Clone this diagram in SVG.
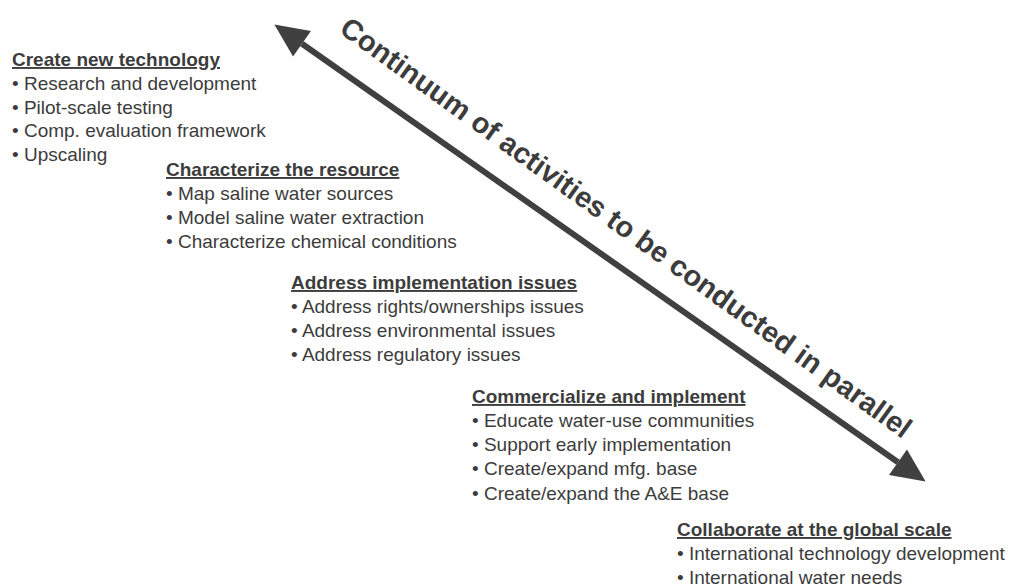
<svg xmlns="http://www.w3.org/2000/svg" width="1010" height="587" viewBox="0 0 1010 587">
<style>
  text { font-family: "Liberation Sans", Arial, sans-serif; font-size: 19px; fill: #3c3c3c; }
  .h { font-weight: bold; text-decoration: underline; }
  .big { font-weight: bold; font-size: 29px; }
</style>
<defs>
  <marker id="ah" markerUnits="userSpaceOnUse" markerWidth="40" markerHeight="40" viewBox="-2 -14 32 28" refX="0" refY="0" orient="auto-start-reverse">
    <path d="M0,-12.5 L27,0 L0,12.5 z" fill="#404040"/>
  </marker>
</defs>
<rect width="1010" height="587" fill="#ffffff"/>
<g id="connectors">
  <line x1="302" y1="43.8" x2="898" y2="462.2" stroke="#404040" stroke-width="6" marker-start="url(#ah)" marker-end="url(#ah)"/>
</g>
<g id="arrow-label">
  <text class="big" transform="translate(338,32) rotate(35.8)">Continuum of activities to be conducted in parallel</text>
</g>
<g id="create-new-technology">
  <text x="12" y="66" class="h">Create new technology</text>
  <text x="12" y="90">• Research and development</text>
  <text x="12" y="113.5">• Pilot-scale testing</text>
  <text x="12" y="137">• Comp. evaluation framework</text>
  <text x="12" y="160.5">• Upscaling</text>
</g>
<g id="characterize-resource">
  <text x="166" y="176" class="h">Characterize the resource</text>
  <text x="166" y="200">• Map saline water sources</text>
  <text x="166" y="224">• Model saline water extraction</text>
  <text x="166" y="248">• Characterize chemical conditions</text>
</g>
<g id="address-implementation">
  <text x="291" y="289" class="h">Address implementation issues</text>
  <text x="291" y="313">• Address rights/ownerships issues</text>
  <text x="291" y="337">• Address environmental issues</text>
  <text x="291" y="361">• Address regulatory issues</text>
</g>
<g id="commercialize">
  <text x="472" y="403" class="h">Commercialize and implement</text>
  <text x="472" y="427">• Educate water-use communities</text>
  <text x="472" y="451">• Support early implementation</text>
  <text x="472" y="475">• Create/expand mfg. base</text>
  <text x="472" y="500">• Create/expand the A&amp;E base</text>
</g>
<g id="collaborate-global">
  <text x="677" y="536" class="h">Collaborate at the global scale</text>
  <text x="677" y="560">• International technology development</text>
  <text x="677" y="584">• International water needs</text>
</g>
</svg>
